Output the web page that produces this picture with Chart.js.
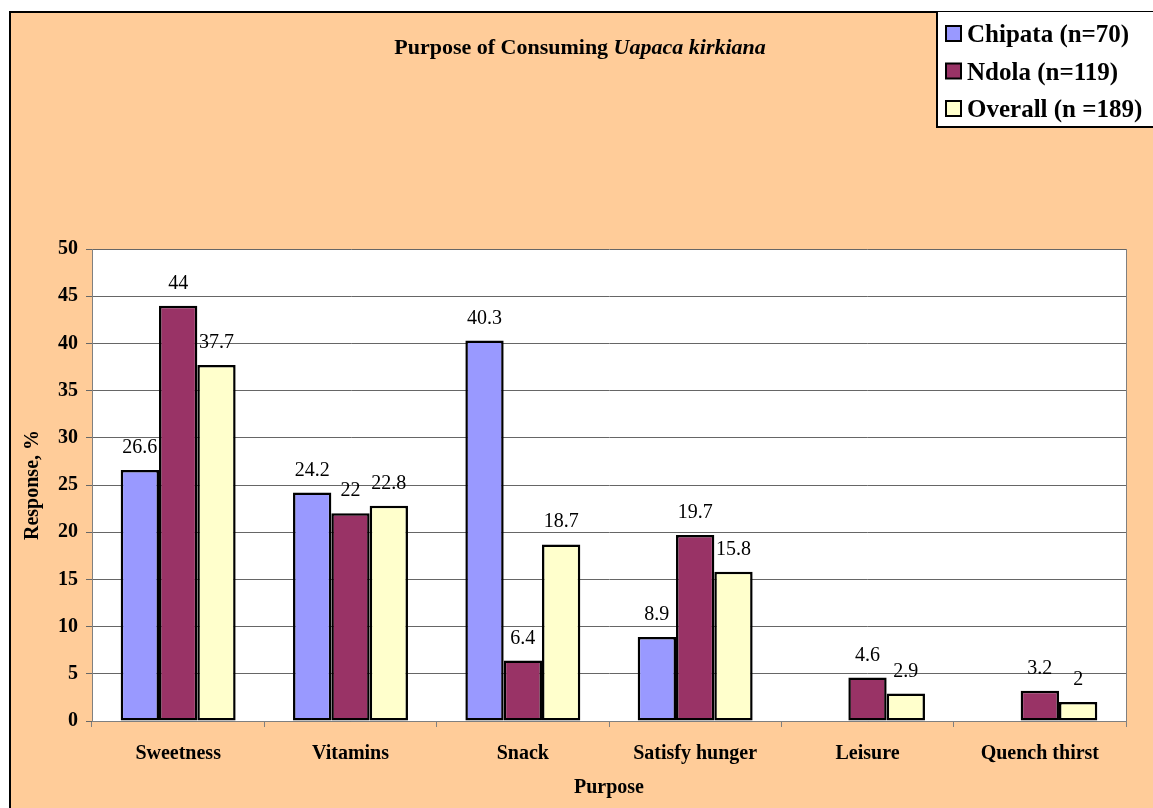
<!DOCTYPE html>
<html>
<head>
<meta charset="utf-8">
<script src="https://cdn.jsdelivr.net/npm/chart.js@4.4.0/dist/chart.umd.min.js"></script>
<style>
    body { margin: 0; background: #ffffff; }
    #wrap { width: 1153px; height: 808px; }
</style>
</head>
<body>
<div id="wrap"><canvas id="purposeChart" width="1153" height="808"></canvas></div>
<script>
// Chart data
const categories = ['Sweetness', 'Vitamins', 'Snack', 'Satisfy hunger', 'Leisure', 'Quench thirst'];
const chipata = [26.6, 24.2, 40.3, 8.9, null, null];
const ndola = [44, 22, 6.4, 19.7, 4.6, 3.2];
const overall = [37.7, 22.8, 18.7, 15.8, 2.9, 2];
const seriesNames = ['Chipata (n=70)', 'Ndola (n=119)', 'Overall (n =189)'];
const seriesColors = ['#9999FF', '#993366', '#FFFFCC'];
const yTicks = [0, 5, 10, 15, 20, 25, 30, 35, 40, 45, 50];

const SERIF = '"Liberation Serif", "Times New Roman", serif';

// Background, plot frame, titles and legend
const decorPlugin = {
    id: 'decor',
    beforeDraw(chart) {
        const ctx = chart.ctx;
        const area = chart.chartArea;
        ctx.save();
        ctx.fillStyle = '#ffffff';
        ctx.fillRect(0, 0, chart.width, chart.height);
        ctx.fillStyle = '#FFCC99';
        ctx.fillRect(10, 12, chart.width, chart.height);
        ctx.strokeStyle = '#000000';
        ctx.lineWidth = 2;
        ctx.beginPath();
        ctx.moveTo(10, chart.height + 2);
        ctx.lineTo(10, 12);
        ctx.lineTo(chart.width + 2, 12);
        ctx.stroke();
        ctx.fillStyle = '#ffffff';
        ctx.fillRect(area.left, area.top, area.right - area.left, area.bottom - area.top);
        ctx.restore();
    },
    afterDraw(chart) {
        const ctx = chart.ctx;
        const area = chart.chartArea;
        ctx.save();

        // right edge of plot area
        ctx.strokeStyle = '#808080';
        ctx.lineWidth = 1;
        ctx.beginPath();
        ctx.moveTo(area.right + 0.5, area.top);
        ctx.lineTo(area.right + 0.5, area.bottom);
        ctx.stroke();

        // Title with italic species name
        ctx.fillStyle = '#000000';
        ctx.textBaseline = 'alphabetic';
        const part1 = 'Purpose of Consuming ';
        const part2 = 'Uapaca kirkiana';
        ctx.font = 'bold 22px ' + SERIF;
        const w1 = ctx.measureText(part1).width;
        ctx.font = 'italic bold 22px ' + SERIF;
        const w2 = ctx.measureText(part2).width;
        let x = 580 - (w1 + w2) / 2;
        ctx.textAlign = 'left';
        ctx.font = 'bold 22px ' + SERIF;
        ctx.fillText(part1, x, 54);
        ctx.font = 'italic bold 22px ' + SERIF;
        ctx.fillText(part2, x + w1, 54);

        // Axis titles
        ctx.font = 'bold 20px ' + SERIF;
        ctx.textAlign = 'center';
        ctx.textBaseline = 'middle';
        ctx.fillText('Purpose', (area.left + area.right) / 2, 788);
        ctx.save();
        ctx.translate(33, (area.top + area.bottom) / 2);
        ctx.rotate(-Math.PI / 2);
        ctx.fillText('Response, %', 0, 0);
        ctx.restore();

        // Legend box
        ctx.fillStyle = '#ffffff';
        ctx.fillRect(937, 12, chart.width, 115);
        ctx.strokeStyle = '#000000';
        ctx.lineWidth = 2;
        ctx.beginPath();
        ctx.moveTo(937, 12);
        ctx.lineTo(937, 127);
        ctx.lineTo(chart.width + 2, 127);
        ctx.stroke();
        ctx.font = 'bold 25px ' + SERIF;
        ctx.textAlign = 'left';
        ctx.textBaseline = 'alphabetic';
        seriesNames.forEach((name, i) => {
            const base = 42 + i * 37.5;
            ctx.fillStyle = seriesColors[i];
            ctx.fillRect(946, base - 16, 15, 15);
            ctx.strokeStyle = '#000000';
            ctx.lineWidth = 2;
            ctx.strokeRect(946, base - 16, 15, 15);
            ctx.fillStyle = '#000000';
            ctx.fillText(name, 967, base);
        });
        ctx.restore();
    }
};

// Value labels above bars
const valueLabelPlugin = {
    id: 'valueLabels',
    afterDatasetsDraw(chart) {
        const ctx = chart.ctx;
        ctx.save();
        ctx.font = '20px ' + SERIF;
        ctx.fillStyle = '#000000';
        ctx.textAlign = 'center';
        ctx.textBaseline = 'alphabetic';
        chart.data.datasets.forEach((ds, di) => {
            const meta = chart.getDatasetMeta(di);
            meta.data.forEach((bar, i) => {
                const v = ds.data[i];
                if (v === null || v === undefined) return;
                ctx.fillText(String(v), bar.x, bar.y - 17);
            });
        });
        ctx.restore();
    }
};

function initializePurposeChart() {
    const ctx = document.getElementById('purposeChart');
    if (!ctx) return;

    const chart = new Chart(ctx, {
        type: 'bar',
        data: {
            labels: categories,
            datasets: [chipata, ndola, overall].map((values, i) => ({
                label: seriesNames[i],
                data: values,
                backgroundColor: seriesColors[i],
                borderColor: '#000000',
                borderWidth: 2.5,
                borderSkipped: false,
                barPercentage: 1,
                categoryPercentage: 0.667
            }))
        },
        options: {
            responsive: false,
            animation: false,
            layout: {
                padding: { top: 249, right: 27, left: 0, bottom: 0 }
            },
            scales: {
                x: {
                    grid: {
                        display: true,
                        offset: true,
                        drawOnChartArea: false,
                        tickLength: 6,
                        color: '#808080'
                    },
                    border: { display: true, color: '#808080', width: 1 },
                    ticks: {
                        color: '#000000',
                        font: { family: SERIF, size: 20, weight: 'bold' },
                        padding: 15,
                        maxRotation: 0
                    },
                    afterFit(scale) { scale.height = 87; }
                },
                y: {
                    min: 0,
                    max: 50,
                    afterBuildTicks(scale) {
                        scale.ticks = yTicks.map(v => ({ value: v }));
                    },
                    grid: {
                        color: '#666666',
                        tickLength: 6,
                        lineWidth: 1
                    },
                    border: { display: true, color: '#808080', width: 1 },
                    ticks: {
                        color: '#000000',
                        font: { family: SERIF, size: 20, weight: 'bold' },
                        padding: 8
                    },
                    afterFit(scale) { scale.width = 92; }
                }
            },
            plugins: {
                legend: { display: false },
                title: { display: false },
                tooltip: { enabled: false }
            }
        },
        plugins: [decorPlugin, valueLabelPlugin]
    });
}

initializePurposeChart();
</script>
</body>
</html>
